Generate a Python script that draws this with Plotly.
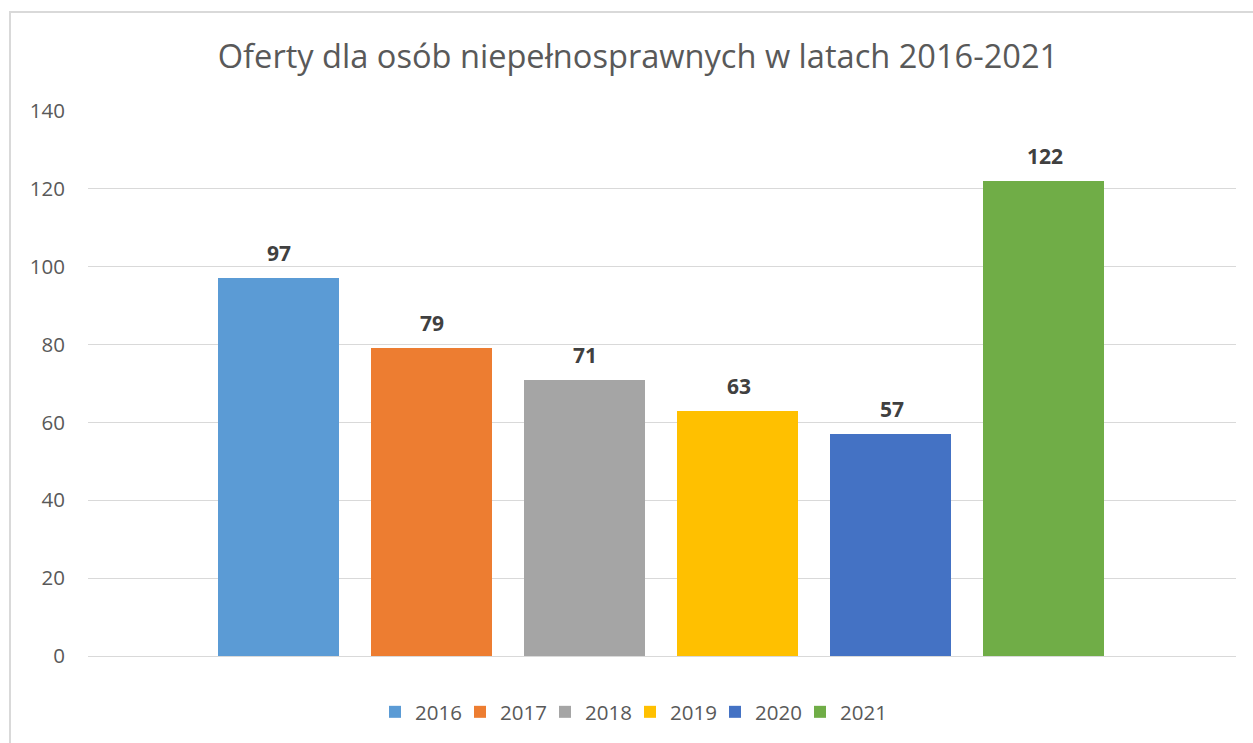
import plotly.graph_objects as go

# Offers for people with disabilities, per year
years = ["2016", "2017", "2018", "2019", "2020", "2021"]
offers = [97, 79, 71, 63, 57, 122]
colors = ["#5B9BD5", "#ED7D31", "#A5A5A5", "#FFC000", "#4472C4", "#70AD47"]
y_ticks = [0, 20, 40, 60, 80, 100, 120, 140]

FONT = "Open Sans"
W, H = 1253, 743
L, R, T, B = 88, 17, 111, 87
plot_w = W - L - R
plot_h = H - T - B

fig = go.Figure()
for i, (yr, val, col) in enumerate(zip(years, offers, colors)):
    fig.add_trace(go.Bar(
        x=[i - 0.005], y=[val], name=yr, width=0.79,
        marker=dict(color=col, line=dict(width=0)),
        hoverinfo="name+y",
    ))
    fig.add_annotation(
        x=i, y=val, text=f"<b>{val}</b>", showarrow=False,
        yanchor="middle", yshift=25,
        font=dict(family=FONT, size=21, color="#404040"),
    )

# outer chart frame
fig.add_shape(
    type="rect", xref="paper", yref="paper",
    x0=(10 - L) / plot_w, x1=(W + 20 - L) / plot_w,
    y0=-(B + 20) / plot_h, y1=(H - B - 12) / plot_h,
    line=dict(color="#D9D9D9", width=2), fillcolor="rgba(0,0,0,0)", layer="below",
)

fig.update_layout(
    width=W, height=H,
    margin=dict(l=L, r=R, t=T, b=B, pad=0),
    paper_bgcolor="white", plot_bgcolor="white",
    font=dict(family=FONT, color="#595959"),
    title=dict(
        text="Oferty dla osób niepełnosprawnych w latach 2016-2021",
        xref="container", x=638 / W, xanchor="center",
        yref="container", y=1 - 57 / H, yanchor="middle",
        font=dict(family=FONT, size=32.6, color="#595959"),
    ),
    xaxis=dict(range=[-1.25, 6.25], showticklabels=False, showgrid=False,
               zeroline=False, showline=False, fixedrange=True),
    yaxis=dict(range=[0, 140], tickvals=y_ticks, showgrid=True,
               gridcolor="#D9D9D9", gridwidth=1, zeroline=True,
               zerolinecolor="#D9D9D9", zerolinewidth=1, showline=False,
               ticks="", ticklabelstandoff=22,
               tickfont=dict(family=FONT, size=20.5, color="#595959")),
    bargap=0,
    showlegend=True,
    legend=dict(
        orientation="h", xref="container", x=630 / W, xanchor="center",
        yref="container", y=1 - 712 / H, yanchor="middle",
        font=dict(family=FONT, size=20.5, color="#595959"),
        itemwidth=30, traceorder="normal", entrywidth=40,
    ),
)

fig.write_html("out.html")
